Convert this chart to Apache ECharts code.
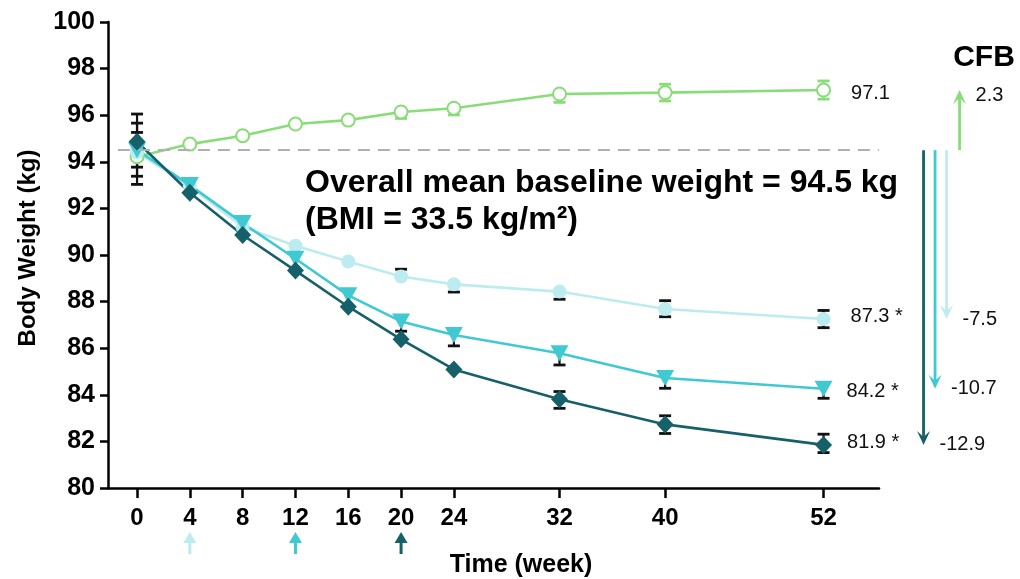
<!DOCTYPE html>
<html><head><meta charset="utf-8">
<script src="https://cdn.jsdelivr.net/npm/echarts@6/dist/echarts.min.js"></script>
<style>html,body{margin:0;padding:0;background:#fff}#c{width:1020px;height:579px}</style>
</head><body><div id="c"></div>
<script>
// ---------- DATA ----------
const weeks = [0, 4, 8, 12, 16, 20, 24, 32, 40, 52];
const xTickValues = [0, 4, 8, 12, 16, 20, 24, 32, 40, 52];

const placebo  = [94.22, 94.76, 95.12, 95.62, 95.79, 96.14, 96.30, 96.91, 96.97, 97.08];
const lowDose  = [94.40, 92.95, 91.20, 90.40, 89.72, 89.08, 88.74, 88.43, 87.68, 87.25];
const midDose  = [94.50, 93.00, 91.37, 89.84, 88.27, 87.15, 86.57, 85.78, 84.72, 84.26];
const highDose = [94.86, 92.67, 90.86, 89.33, 87.78, 86.38, 85.09, 83.81, 82.73, 81.85];

// error bar half-lengths (kg), upper / lower; 0 = not shown
const placeboErrUp   = [0, 0, 0, 0, 0, 0, 0, 0, 0.36, 0.39];
const placeboErrDown = [0, 0, 0, 0, 0, 0.28, 0.29, 0.36, 0.36, 0.39];
const lowErrUp       = [0.86, 0, 0, 0, 0, 0.31, 0, 0, 0.36, 0.37];
const lowErrDown     = [1.37, 0, 0, 0, 0, 0, 0.33, 0.33, 0.33, 0.37];
const midErrUp       = [1.16, 0, 0, 0, 0, 0, 0, 0, 0, 0];
const midErrDown     = [1.12, 0, 0, 0, 0, 0.42, 0.47, 0.50, 0.44, 0.41];
const highErrUp      = [1.19, 0, 0, 0, 0, 0, 0, 0.33, 0.37, 0.46];
const highErrDown    = [1.09, 0, 0, 0, 0, 0, 0, 0.39, 0.39, 0.33];

const baselineWeight = 94.5;
const endLabels = ['97.1', '87.3 *', '84.2 *', '81.9 *'];
const cfbLabels = ['2.3', '-7.5', '-10.7', '-12.9'];
const dosingWeeks = [4, 12, 20];

// ---------- STYLE ----------
const GREEN = '#89dd78', LIGHT = '#bdecf0', CYAN = '#40c8d3', DARK = '#16606a';
const FONT = "'Liberation Sans', Arial, Helvetica, sans-serif";

const chart = echarts.init(document.getElementById('c'), null, {renderer: 'canvas'});

function pairs(vals) { return weeks.map((w, i) => [w, vals[i]]); }
function errRows(vals, up, dn) { return weeks.map((w, i) => [w, vals[i], up[i], dn[i]]); }

function errRender(color) {
  return function (params, api) {
    const x = api.value(0), y = api.value(1), up = api.value(2), dn = api.value(3);
    const c = api.coord([x, y]);
    const children = [];
    const hw = 6;
    const st = {stroke: color, lineWidth: 2.2};
    const cst = {stroke: color, lineWidth: 2.8};
    const top = up > 0 ? api.coord([x, y + up])[1] : c[1];
    const bot = dn > 0 ? api.coord([x, y - dn])[1] : c[1];
    if (up > 0 || dn > 0) children.push({type: 'line', shape: {x1: c[0], y1: top, x2: c[0], y2: bot}, style: st});
    if (up > 0) children.push({type: 'line', shape: {x1: c[0] - hw, y1: top, x2: c[0] + hw, y2: top}, style: cst});
    if (dn > 0) children.push({type: 'line', shape: {x1: c[0] - hw, y1: bot, x2: c[0] + hw, y2: bot}, style: cst});
    return {type: 'group', children};
  };
}

function errSeries(vals, up, dn, color) {
  return {type: 'custom', coordinateSystem: 'cartesian2d', data: errRows(vals, up, dn),
    renderItem: errRender(color), z: 1, silent: true, clip: false};
}

function lineSeries(name, vals, color, symbol, size, rotate, label, labelDist, labelDy) {
  const data = pairs(vals).map((p, i) => {
    if (i === vals.length - 1) {
      return {value: p, label: {show: true, position: 'right', distance: labelDist, offset: [0, labelDy],
        formatter: label, color: '#111', fontSize: 20, fontFamily: FONT}};
    }
    return {value: p};
  });
  const empty = symbol === 'emptyCircle';
  return {
    name, type: 'line', data, z: 3, silent: true,
    symbol, symbolSize: size, symbolRotate: rotate, showAllSymbol: true,
    lineStyle: {color, width: 2.6},
    itemStyle: empty ? {color, borderColor: color, borderWidth: 2.6} : {color, borderWidth: 0},
    emphasis: {disabled: true}
  };
}

// CFB arrows
const finals = [placebo[9], lowDose[9], midDose[9], highDose[9]];
const arrowColors = [GREEN, LIGHT, CYAN, DARK];
const arrowOffsets = [136, 123, 111.5, 100]; // px right of week-52 position

const cfbSeries = {
  type: 'custom', coordinateSystem: 'cartesian2d', clip: false, silent: true, z: 5,
  data: finals.map((v, i) => [52, v, i]),
  renderItem: function (params, api) {
    const v = api.value(1), i = api.value(2);
    const p0 = api.coord([52, baselineWeight]);
    const p1 = api.coord([52, v]);
    const x = p0[0] + arrowOffsets[i];
    const y0 = p0[1], tip = p1[1];
    const dir = tip < y0 ? -1 : 1; // -1 up
    const col = arrowColors[i];
    const headLen = 14, hw = 6.5;
    const base = tip - dir * headLen;
    return {type: 'group', children: [
      {type: 'line', shape: {x1: x, y1: y0, x2: x, y2: tip - dir * 6}, style: {stroke: col, lineWidth: 2.8}},
      {type: 'polygon', shape: {points: [[x, tip], [x - hw, base], [x, tip - dir * 8], [x + hw, base]]}, style: {fill: col}},
      {type: 'text', x: x + 16, y: tip + (dir < 0 ? 5 : 0),
        style: {text: cfbLabels[i], fill: '#111', font: '20px ' + FONT,
          textAlign: 'left', textVerticalAlign: 'middle', align: 'left', verticalAlign: 'middle'}}
    ]};
  }
};

const dosingColors = [LIGHT, CYAN, DARK];
const dosingSeries = {
  type: 'custom', coordinateSystem: 'cartesian2d', clip: false, silent: true, z: 5,
  data: dosingWeeks.map((w, i) => [w, 80, i]),
  renderItem: function (params, api) {
    const p = api.coord([api.value(0), api.value(1)]);
    const col = dosingColors[api.value(2)];
    const x = p[0], tip = p[1] + 44;
    return {type: 'group', children: [
      {type: 'line', shape: {x1: x, y1: tip + 8, x2: x, y2: tip + 22}, style: {stroke: col, lineWidth: 3}},
      {type: 'polygon', shape: {points: [[x, tip], [x - 6.5, tip + 11], [x + 6.5, tip + 11]]}, style: {fill: col}}
    ]};
  }
};

const placeboLine = lineSeries('Placebo', placebo, GREEN, 'emptyCircle', 13, 0, endLabels[0], 20, 3);
placeboLine.markLine = {
  symbol: 'none', silent: true, label: {show: false},
  lineStyle: {type: [12, 8], color: '#b0b0b0', width: 2.2},
  data: [[{coord: [-1.45, baselineWeight]}, {coord: [56.2, baselineWeight]}]]
};

const option = {
  animation: false,
  backgroundColor: '#fff',
  grid: {left: 108, right: 141, top: 22, bottom: 91, containLabel: false},
  xAxis: {
    type: 'value', min: -2.2, max: 56.2,
    axisLine: {show: true, onZero: false, lineStyle: {color: '#000', width: 2.5}},
    axisTick: {show: true, length: 10, lineStyle: {color: '#000', width: 2.5}, customValues: xTickValues},
    axisLabel: {show: true, customValues: xTickValues, margin: 18, color: '#000', fontSize: 24, fontWeight: 'bold', fontFamily: FONT},
    splitLine: {show: false}
  },
  yAxis: {
    type: 'value', min: 80, max: 100, interval: 2,
    axisLine: {show: true, onZero: false, lineStyle: {color: '#000', width: 2.5}},
    axisTick: {show: true, length: 8, lineStyle: {color: '#000', width: 2.5}},
    axisLabel: {margin: 13, color: '#000', fontSize: 25, fontWeight: 'bold', fontFamily: FONT},
    splitLine: {show: false}
  },
  graphic: [
    {type: 'text', x: 28, y: 248, rotation: Math.PI / 2,
      style: {text: 'Body Weight (kg)', font: 'bold 24px ' + FONT, fill: '#000',
        textAlign: 'center', textVerticalAlign: 'middle', align: 'center', verticalAlign: 'middle'}},
    {type: 'text', x: 521, y: 565,
      style: {text: 'Time (week)', font: 'bold 25px ' + FONT, fill: '#000',
        textAlign: 'center', textVerticalAlign: 'middle', align: 'center', verticalAlign: 'middle'}},
    {type: 'text', x: 305, y: 183,
      style: {text: 'Overall mean baseline weight = 94.5 kg', font: 'bold 32px ' + FONT, fill: '#000',
        textAlign: 'left', textVerticalAlign: 'middle', align: 'left', verticalAlign: 'middle'}},
    {type: 'text', x: 305, y: 220,
      style: {text: '(BMI = 33.5 kg/m\u00B2)', font: 'bold 32px ' + FONT, fill: '#000',
        textAlign: 'left', textVerticalAlign: 'middle', align: 'left', verticalAlign: 'middle'}},
    {type: 'text', x: 984, y: 58,
      style: {text: 'CFB', font: 'bold 30px ' + FONT, fill: '#000',
        textAlign: 'center', textVerticalAlign: 'middle', align: 'center', verticalAlign: 'middle'}}
  ],
  series: [
    errSeries(placebo, placeboErrUp, placeboErrDown, GREEN),
    errSeries(lowDose, lowErrUp, lowErrDown, '#111'),
    errSeries(midDose, midErrUp, midErrDown, '#111'),
    errSeries(highDose, highErrUp, highErrDown, '#111'),
    placeboLine,
    lineSeries('Low', lowDose, LIGHT, 'circle', 14, 0, endLabels[1], 20, -3),
    lineSeries('Mid', midDose, CYAN, 'triangle', [18, 16], 180, endLabels[2], 14, 3),
    lineSeries('High', highDose, DARK, 'diamond', [17, 18], 0, endLabels[3], 15, -2),
    cfbSeries,
    dosingSeries
  ]
};
chart.setOption(option);
</script>
</body></html>
